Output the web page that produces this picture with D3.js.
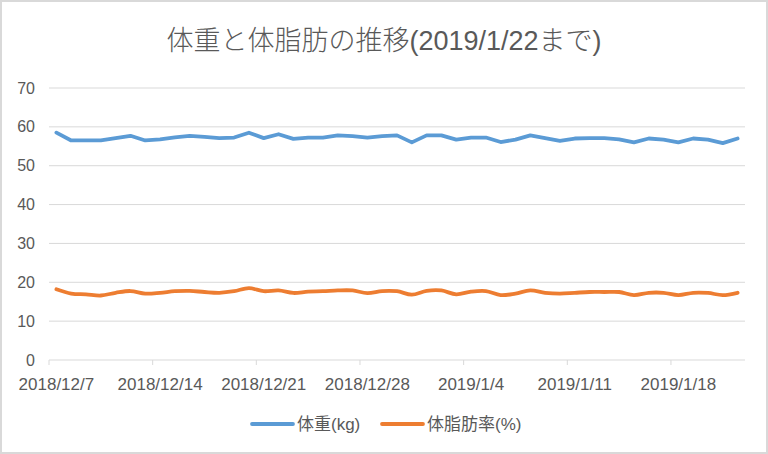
<!DOCTYPE html>
<html>
<head>
<meta charset="utf-8">
<script src="https://cdn.jsdelivr.net/npm/d3@7"></script>
<style>
  body { margin: 0; background: #fff; }
  svg { display: block; }
</style>
</head>
<body>
<svg id="chart"></svg>
<script>
// daily values, 2018/12/7 .. 2019/1/22
const startDate = "2018-12-07";
const dayCount = 47;

const weight = [
  58.5, 56.5, 56.5, 56.5, 57.1, 57.7, 56.5, 56.8, 57.3, 57.7,
  57.4, 57.1, 57.25, 58.5, 57.1, 58.1, 56.9, 57.25, 57.25, 57.8,
  57.6, 57.25, 57.6, 57.8, 56.0, 57.8, 57.8, 56.7, 57.25, 57.25,
  56.1, 56.7, 57.8, 57.1, 56.4, 57.0, 57.1, 57.1, 56.8, 56.0,
  57.0, 56.7, 56.0, 57.0, 56.7, 55.8, 57.0
];

const bodyFat = [
  18.2, 17.1, 16.9, 16.6, 17.3, 17.75, 17.1, 17.3, 17.7, 17.8,
  17.5, 17.3, 17.7, 18.5, 17.7, 17.9, 17.25, 17.6, 17.7, 17.9,
  17.9, 17.2, 17.75, 17.7, 16.8, 17.8, 17.9, 16.9, 17.6, 17.75,
  16.7, 17.1, 17.9, 17.3, 17.1, 17.3, 17.5, 17.5, 17.5, 16.7,
  17.3, 17.3, 16.7, 17.3, 17.25, 16.7, 17.3
];

const yTicks = [0, 10, 20, 30, 40, 50, 60, 70];
const seriesNames = ["体重(kg)", "体脂肪率(%)"];
const colors = ["#5B9BD5", "#ED7D31"];

const width = 768, height = 454;
const margin = { top: 88, right: 23, bottom: 94, left: 49 };

const parse = d3.utcParse("%Y-%m-%d");
const days = d3.range(dayCount).map(i => d3.utcDay.offset(parse(startDate), i));
const fmt = d3.utcFormat("%Y/%-m/%-d");

const svg = d3.select("#chart")
  .attr("width", width)
  .attr("height", height)
  .attr("viewBox", [0, 0, width, height]);

svg.append("rect")
  .attr("x", 1).attr("y", 1)
  .attr("width", width - 2).attr("height", height - 2)
  .attr("fill", "#fff")
  .attr("stroke", "#D9D9D9")
  .attr("stroke-width", 2);

const x = d3.scaleBand()
  .domain(days.map(d => +d))
  .range([margin.left, width - margin.right])
  .padding(0);

const y = d3.scaleLinear()
  .domain([0, 70])
  .range([height - margin.bottom, margin.top]);

const cx = i => x(+days[i]) + x.bandwidth() / 2;

// gridlines
svg.append("g")
  .selectAll("line")
  .data(yTicks.filter(t => t > 0))
  .join("line")
  .attr("x1", margin.left)
  .attr("x2", width - margin.right)
  .attr("y1", d => y(d))
  .attr("y2", d => y(d))
  .attr("stroke", "#D9D9D9")
  .attr("stroke-width", 1);

// y labels
svg.append("g")
  .selectAll("text")
  .data(yTicks)
  .join("text")
  .attr("x", 35)
  .attr("y", d => y(d))
  .attr("dy", "0.35em")
  .attr("text-anchor", "end")
  .attr("fill", "#595959")
  .style("font", "16px 'Liberation Sans', sans-serif")
  .text(d => d);

// x axis line and ticks
const tickIdx = d3.range(0, dayCount, 7);
const xg = svg.append("g");
xg.append("line")
  .attr("x1", margin.left)
  .attr("x2", width - margin.right)
  .attr("y1", y(0))
  .attr("y2", y(0))
  .attr("stroke", "#D9D9D9");
xg.selectAll(".tk")
  .data(tickIdx)
  .join("line")
  .attr("class", "tk")
  .attr("x1", i => x(+days[i]))
  .attr("x2", i => x(+days[i]))
  .attr("y1", y(0))
  .attr("y2", y(0) + 5)
  .attr("stroke", "#D9D9D9");
xg.selectAll("text")
  .data(tickIdx)
  .join("text")
  .attr("x", i => cx(i))
  .attr("y", 390)
  .attr("text-anchor", "middle")
  .attr("fill", "#595959")
  .style("font", "17px 'Liberation Sans', sans-serif")
  .text(i => fmt(days[i]));

// lines
const lineStraight = d3.line()
  .x((d, i) => cx(i))
  .y(d => y(d));

const lineSmooth = d3.line()
  .x((d, i) => cx(i))
  .y(d => y(d))
  .curve(d3.curveCatmullRom);

svg.append("path")
  .datum(weight)
  .attr("d", lineStraight)
  .attr("fill", "none")
  .attr("stroke", colors[0])
  .attr("stroke-width", 3.8)
  .attr("stroke-linejoin", "round")
  .attr("stroke-linecap", "round");

svg.append("path")
  .datum(bodyFat)
  .attr("d", lineSmooth)
  .attr("fill", "none")
  .attr("stroke", colors[1])
  .attr("stroke-width", 3.8)
  .attr("stroke-linecap", "round");

// title
const title = svg.append("text")
  .attr("x", width / 2)
  .attr("y", 50)
  .attr("text-anchor", "middle")
  .attr("fill", "#595959")
  .style("font-size", "27px");
title.append("tspan")
  .style("font-family", "'Noto Sans CJK JP'")
  .style("font-weight", 300)
  .text("体重と体脂肪の推移");
title.append("tspan")
  .style("font-family", "'Liberation Sans'")
  .text("(2019/1/22");
title.append("tspan")
  .style("font-family", "'Noto Sans CJK JP'")
  .style("font-weight", 300)
  .text("まで");
title.append("tspan")
  .style("font-family", "'Liberation Sans'")
  .text(")");

// legend
const legendX = [252, 382];
const lg = svg.append("g")
  .selectAll("g")
  .data(seriesNames)
  .join("g")
  .attr("transform", (d, i) => `translate(${legendX[i]},424)`);
lg.append("line")
  .attr("x1", 0).attr("x2", 41)
  .attr("stroke", (d, i) => colors[i])
  .attr("stroke-width", 3.8)
  .attr("stroke-linecap", "round");
lg.append("text")
  .attr("x", 45)
  .attr("y", 6)
  .attr("fill", "#595959")
  .style("font", "17px 'Liberation Sans', 'Noto Sans CJK JP', sans-serif")
  .text(d => d);
</script>
</body>
</html>
